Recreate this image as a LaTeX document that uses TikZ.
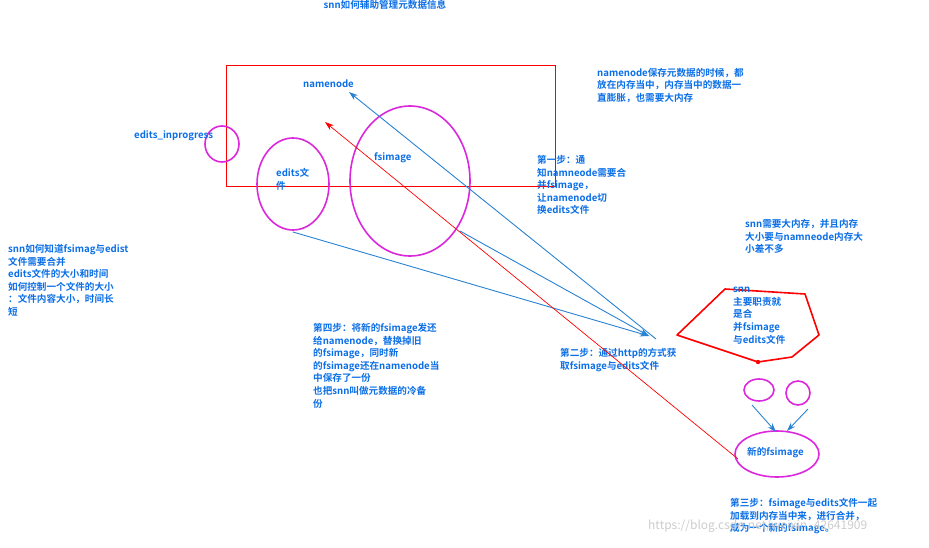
\documentclass[tikz,border=0pt]{standalone}
\usepackage{fontspec}
\setmainfont{Noto Sans CJK SC}[BoldFont={Noto Sans CJK SC Bold}]
\usetikzlibrary{arrows.meta}
\definecolor{txtblue}{RGB}{10,110,230}
\definecolor{lineblue}{RGB}{40,130,210}
\definecolor{magent}{RGB}{220,40,220}
\tikzset{
	note/.style={text=txtblue, font=\bfseries\fontsize{9.6}{12.6}\selectfont, align=left, inner sep=0pt, anchor=north west},
	blob/.style={draw=magent, line width=1.6pt},
	blarrow/.style={draw=lineblue, line width=0.9pt, -{Stealth[length=9pt,width=6pt]}},
}
\begin{document}
\begin{tikzpicture}[x=1pt, y=-1pt]
	\useasboundingbox (0,0) rectangle (929,548);

	\node[note, anchor=north] (title) at (385,0) {snn如何辅助管理元数据信息};
	\draw[red, line width=0.8pt] (226,65) rectangle (555,186);
	\node[note] (nn) at (303,80) {namenode};

	\draw[blob] (222,144) ellipse (17 and 18);
	\node[note] (inprog) at (134,131) {edits\_inprogress};
	\draw[blob] (293,184) ellipse (36 and 46);
	\node[note] (edits) at (276,168) {edits文\\件};
	\draw[blob] (410,181) ellipse (60 and 75);
	\node[note] (fsimg) at (374,153) {fsimage};

	\node[note] (mem) at (597,68) {namenode保存元数据的时候，都\\放在内存当中，内存当中的数据一\\直膨胀，也需要大内存};
	\node[note] (step1) at (537,155) {第一步：通\\知namneode需要合\\并fsimage，\\让namenode切\\换edits文件};
	\node[note] (snnmem) at (745,219) {snn需要大内存，并且内存\\大小要与namneode内存大\\小差不多};
	\node[note] (how) at (8,244) {snn如何知道fsimag与edist\\文件需要合并\\edits文件的大小和时间\\如何控制一个文件的大小\\：文件内容大小，时间长\\短};
	\node[note] (step4) at (313,323) {第四步：将新的fsimage发还\\给namenode，替换掉旧\\的fsimage，同时新\\的fsimage还在namenode当\\中保存了一份\\也把snn叫做元数据的冷备\\份};
	\node[note] (step2) at (560,348) {第二步：通过http的方式获\\取fsimage与edits文件};

	% snn box
	\draw[red, line width=1.6pt, line join=round] (677,335) -- (725,289) -- (805,294) -- (819,335) -- (792,357) -- (758,362) -- cycle;
	\fill[red] (758,362) circle (2.2);
	\node[note] (snn) at (733,287) {snn\\主要职责就\\是合\\并fsimage\\与edits文件};

	\draw[blob] (759,390) ellipse (15 and 11);
	\draw[blob] (798,393) ellipse (12 and 12);
	\draw[blob] (777,454) ellipse (42 and 23);
	\node[note] (newimg) at (747,447) {新的fsimage};
	\node[note] (step3) at (730,498) {第三步：fsimage与edits文件一起\\加载到内存当中来，进行合并，\\成为一个新的fsimage。};
	\node[text=black!20, font=\fontsize{12}{12}\selectfont, anchor=north west, inner sep=0pt] (wm) at (648,520) {https://blog.csdn.net/weixin\_42641909};

	% connector ends
	\coordinate (snnL) at (656,339);
	\coordinate (nnPt) at (349,92);
	\coordinate (editsB) at (293,232);
	\coordinate (fsB) at (460,231);
	\coordinate (getPt) at (649,336);
	\coordinate (newL) at (738,459);
	\coordinate (redPt) at (325,122);
	\coordinate (s1) at (752,405);
	\coordinate (s2) at (808,409);
	\coordinate (n1) at (776,432);
	\coordinate (n2) at (787,431);

	\draw[blarrow] (snnL) -- (nnPt);
	\draw[blarrow] (editsB) -- (getPt);
	\draw[blarrow] (fsB) -- (getPt);
	\draw[red, line width=0.7pt, -{Stealth[length=9pt,width=6pt]}] (newL) -- (redPt);
	\draw[blarrow] (s1) -- (n1);
	\draw[blarrow] (s2) -- (n2);
\end{tikzpicture}
\end{document}
